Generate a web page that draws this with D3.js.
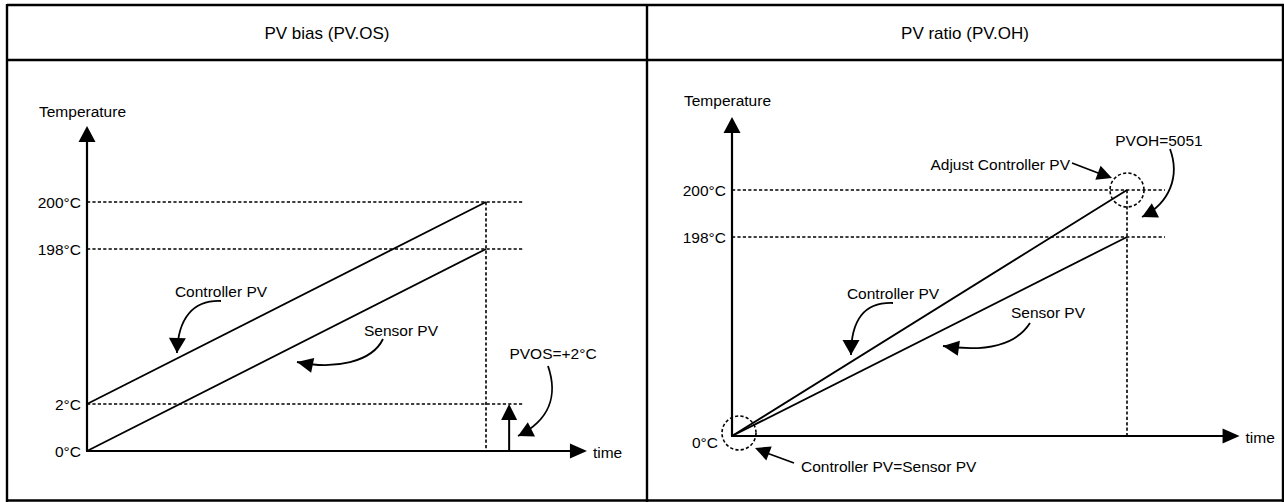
<!DOCTYPE html>
<html><head><meta charset="utf-8">
<script src="https://cdn.jsdelivr.net/npm/d3@7"></script>
<style>
html,body{margin:0;padding:0;background:#fff;}
svg{display:block;}
text{font-family:"Liberation Sans",Arial,sans-serif;fill:#000;}
</style></head>
<body><div id="chart"></div>
<script>
// ---------- data ----------
const panelTitles = ["PV bias (PV.OS)", "PV ratio (PV.OH)"];
const axisNames = ["Temperature", "time"];

const biasTickValues = [0, 2, 198, 200];
const biasTickLabels = ["0°C", "2°C", "198°C", "200°C"];
const ratioTickValues = [0, 198, 200];
const ratioTickLabels = ["0°C", "198°C", "200°C"];

// time is normalised: 0 = start, 1 = end of ramp
const biasController = [{t: 0, v: 2}, {t: 1, v: 200}];
const biasSensor = [{t: 0, v: 0}, {t: 1, v: 198}];
const ratioController = [{t: 0, v: 0}, {t: 1, v: 200}];
const ratioSensor = [{t: 0, v: 0}, {t: 1, v: 198}];

const biasRefLines = [2, 198, 200];
const ratioRefLines = [198, 200];
const pvosValue = 2;
const pvosTime = 1.058;

const seriesLabels = ["Controller PV", "Sensor PV"];
const biasNote = "PVOS=+2°C";
const ratioNotes = ["PVOH=5051", "Adjust Controller PV", "Controller PV=Sensor PV"];

// ---------- layout ----------
const W = 1284, H = 502;
const svg = d3.select("#chart").append("svg").attr("width", W).attr("height", H);
const FS = 15.5;

// frame
const frame = svg.append("g").attr("stroke", "#000").attr("stroke-width", 2.4).attr("fill", "none");
frame.append("line").attr("x1", 7).attr("x2", 1285).attr("y1", 5).attr("y2", 5);
frame.append("line").attr("x1", 7).attr("x2", 1285).attr("y1", 60).attr("y2", 60);
frame.append("line").attr("x1", 7).attr("x2", 7).attr("y1", 4).attr("y2", 502);
frame.append("line").attr("x1", 647).attr("x2", 647).attr("y1", 4).attr("y2", 502);
frame.append("line").attr("x1", 1283).attr("x2", 1283).attr("y1", 4).attr("y2", 502);
frame.append("line").attr("x1", 7).attr("x2", 1285).attr("y1", 500.5).attr("y2", 500.5);

svg.selectAll("text.title").data(panelTitles).join("text")
  .attr("class", "title")
  .attr("x", (d, i) => i === 0 ? 327 : 965).attr("y", 33)
  .attr("text-anchor", "middle").attr("dominant-baseline", "central")
  .attr("font-size", 17).text(d => d);

function arrowHead(g, tip, from, len, wid) {
  const dx = tip[0] - from[0], dy = tip[1] - from[1];
  const d = Math.hypot(dx, dy), ux = dx / d, uy = dy / d;
  const bx = tip[0] - ux * len, by = tip[1] - uy * len;
  const px = -uy, py = ux;
  g.append("path")
    .attr("d", `M${tip[0]},${tip[1]}L${bx + px * wid / 2},${by + py * wid / 2}L${bx - px * wid / 2},${by - py * wid / 2}Z`)
    .attr("fill", "#000");
}
function curvedArrow(g, p0, c1, c2, tip, len, wid) {
  const p = d3.path();
  p.moveTo(p0[0], p0[1]);
  p.bezierCurveTo(c1[0], c1[1], c2[0], c2[1], tip[0], tip[1]);
  g.append("path").attr("d", p.toString()).attr("fill", "none").attr("stroke", "#000").attr("stroke-width", 1.8);
  arrowHead(g, tip, c2, len, wid);
}
function label(g, x, y, txt, anchor) {
  g.append("text").attr("x", x).attr("y", y).attr("text-anchor", anchor || "middle")
    .attr("dominant-baseline", "central").attr("font-size", FS).text(txt);
}

function drawPanel(cfg) {
  const g = svg.append("g");
  const x = d3.scaleLinear().domain([0, 1]).range(cfg.xRange);
  const y = d3.scaleLinear().domain(cfg.yDomain).range(cfg.yRange);
  const x0 = x(0), y0 = y(0);

  // reference dashed lines
  g.selectAll("line.ref").data(cfg.refLines).join("line")
    .attr("x1", x0).attr("x2", x(cfg.refEnd))
    .attr("y1", d => y(d)).attr("y2", d => y(d))
    .attr("stroke", "#000").attr("stroke-width", 1.6).attr("stroke-dasharray", "3.2,2.2");
  // vertical dotted at end time
  g.append("line").attr("x1", x(1)).attr("x2", x(1))
    .attr("y1", y(cfg.yDomain[cfg.yDomain.length - 1])).attr("y2", y0)
    .attr("stroke", "#000").attr("stroke-width", 1.6).attr("stroke-dasharray", "3.2,2.2");

  // series lines
  const line = d3.line().x(d => x(d.t)).y(d => y(d.v));
  [cfg.controller, cfg.sensor].forEach(s => {
    g.append("path").datum(s).attr("d", line).attr("fill", "none")
      .attr("stroke", "#000").attr("stroke-width", 1.8);
  });

  // axes with arrows
  const yTop = cfg.yTip;
  g.append("line").attr("x1", x0).attr("x2", x0).attr("y1", y0).attr("y2", yTop + 10)
    .attr("stroke", "#000").attr("stroke-width", 2.2);
  arrowHead(g, [x0, yTop], [x0, y0], 16, 17);
  const xEnd = x(cfg.xTip);
  g.append("line").attr("x1", x0 - 1).attr("x2", xEnd - 10).attr("y1", y0).attr("y2", y0)
    .attr("stroke", "#000").attr("stroke-width", 2.2);
  arrowHead(g, [xEnd, y0], [x0, y0], 17, 15);

  // tick labels via axis
  const ax = g.append("g").attr("transform", `translate(${x0 - 6},0)`)
    .call(d3.axisLeft(y).tickValues(cfg.tickValues).tickSize(0).tickPadding(0)
      .tickFormat((d, i) => cfg.tickLabels[i]));
  ax.select(".domain").remove();
  ax.selectAll("text").attr("font-size", FS).attr("font-family", "Liberation Sans, Arial, sans-serif")
    .attr("dy", "0.34em").attr("fill", "#000");
  if (cfg.zeroShift) {
    ax.selectAll(".tick").filter(d => d === 0).select("text")
      .attr("x", cfg.zeroShift[0]).attr("dy", (0.34 * FS + cfg.zeroShift[1]) + "px");
  }

  label(g, cfg.tempLabel[0], cfg.tempLabel[1], axisNames[0], "start");
  label(g, xEnd + 6, y0 + 1, axisNames[1], "start");
  return {g, x, y};
}

// ---------- left panel: PV bias ----------
const L = drawPanel({
  xRange: [87, 486], yDomain: [0, 2, 198, 200], yRange: [451, 404, 249, 202],
  refLines: biasRefLines, refEnd: 1.093, xTip: 1.253, yTip: 126,
  controller: biasController, sensor: biasSensor,
  tickValues: biasTickValues, tickLabels: biasTickLabels,
  tempLabel: [39, 111]
});
// PVOS offset arrow
{
  const g = L.g, xs = L.x(pvosTime);
  g.append("line").attr("x1", xs).attr("x2", xs).attr("y1", L.y(0)).attr("y2", L.y(pvosValue) + 12)
    .attr("stroke", "#000").attr("stroke-width", 2);
  arrowHead(g, [xs, L.y(pvosValue)], [xs, L.y(0)], 16, 16);
  label(g, 221, 291, seriesLabels[0]);
  curvedArrow(g, [221, 301], [193, 300], [178, 318], [177, 353], 15, 17);
  label(g, 401, 330, seriesLabels[1]);
  curvedArrow(g, [383, 339], [372, 362], [335, 370], [297, 362], 16, 15);
  label(g, 553, 353, biasNote);
  curvedArrow(g, [548, 366], [558, 395], [550, 420], [518, 436], 15, 16);
}

// ---------- right panel: PV ratio ----------
const R = drawPanel({
  xRange: [732, 1127], yDomain: [0, 198, 200], yRange: [436, 237, 190],
  refLines: ratioRefLines, refEnd: 1.096, xTip: 1.285, yTip: 117,
  controller: ratioController, sensor: ratioSensor,
  tickValues: ratioTickValues, tickLabels: ratioTickLabels,
  tempLabel: [684, 100], zeroShift: [-8, 6]
});
{
  const g = R.g;
  const dash = "3.2,2.2";
  g.append("circle").attr("cx", R.x(1)).attr("cy", R.y(200)).attr("r", 17)
    .attr("fill", "none").attr("stroke", "#000").attr("stroke-width", 1.6).attr("stroke-dasharray", dash);
  g.append("circle").attr("cx", R.x(0) + 7).attr("cy", R.y(0) - 3).attr("r", 17)
    .attr("fill", "none").attr("stroke", "#000").attr("stroke-width", 1.6).attr("stroke-dasharray", dash);

  label(g, 893, 293, seriesLabels[0]);
  curvedArrow(g, [893, 303], [864, 302], [851, 320], [851, 355], 15, 17);
  label(g, 1048, 312, seriesLabels[1]);
  curvedArrow(g, [1030, 323], [1016, 345], [985, 352], [943, 346], 16, 15);

  label(g, 1159, 140, ratioNotes[0]);
  curvedArrow(g, [1170, 149], [1180, 176], [1170, 203], [1142, 217], 15, 16);
  label(g, 1070, 164, ratioNotes[1], "end");
  g.append("line").attr("x1", 1072).attr("y1", 163).attr("x2", 1102).attr("y2", 174.5)
    .attr("stroke", "#000").attr("stroke-width", 1.8);
  arrowHead(g, [1112, 178], [1072, 163], 15, 15);

  label(g, 801, 466, ratioNotes[2], "start");
  g.append("line").attr("x1", 794).attr("y1", 463).attr("x2", 764).attr("y2", 452)
    .attr("stroke", "#000").attr("stroke-width", 1.8);
  arrowHead(g, [755, 448], [794, 463], 15, 15);
}
</script></body></html>
